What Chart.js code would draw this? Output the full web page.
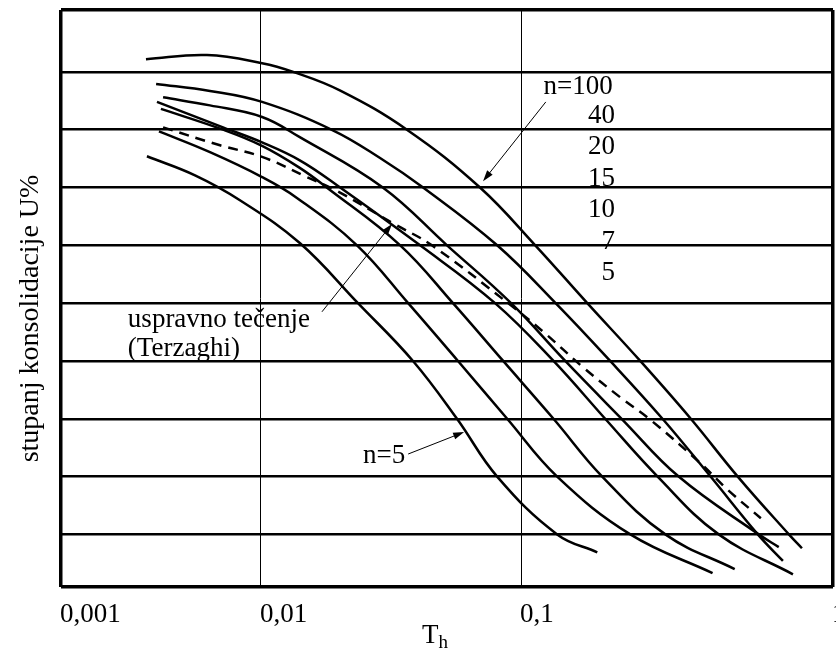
<!DOCTYPE html>
<html>
<head>
<meta charset="utf-8">
<script src="https://cdn.jsdelivr.net/npm/chart.js@4.4.1/dist/chart.umd.min.js"></script>
<style>
  html, body { margin: 0; padding: 0; background: #fff; }
</style>
</head>
<body>
<canvas id="chart" width="836" height="650"></canvas>
<script>
// x = Th, y = U% (0 at the top). one array of [Th, U] per curve
const X_TICKS = [0.001, 0.01, 0.1, 1];
const X_TICK_LABELS = ['0,001', '0,01', '0,1', '1'];
const U_LINES = [10, 20, 30, 40, 50, 60, 70, 80, 90];
const U_MIN = -0.7;
const U_MAX = 99.1;

const N100 = [[0.00266, 7.8], [0.00537, 7.1], [0.0101, 8.5], [0.0133, 10], [0.0201, 13.2], [0.0364, 20], [0.0695, 30],
  [0.111, 40], [0.163, 50], [0.241, 60], [0.35, 70], [0.495, 80], [0.722, 90], [0.795, 92.4]];
const N40 = [[0.00299, 12.1], [0.00556, 13.3], [0.0101, 15.2], [0.0189, 20.1], [0.0287, 24.9], [0.042, 30], [0.0809, 40],
  [0.129, 50], [0.193, 60], [0.284, 70], [0.405, 80], [0.574, 90], [0.691, 94.6]];
const N20 = [[0.00324, 14.4], [0.00556, 15.8], [0.0101, 17.8], [0.0141, 21.3], [0.0294, 30], [0.0519, 40], [0.0915, 50],
  [0.1385, 60], [0.21, 70], [0.32, 80], [0.578, 90], [0.67, 92.2]];
const N15 = [[0.00302, 15.2], [0.00646, 19.6], [0.0101, 22.2], [0.0141, 25.3], [0.0196, 29.6], [0.0409, 40], [0.0794, 50],
  [0.127, 60], [0.186, 70], [0.274, 80], [0.43, 90], [0.744, 96.9]];
const N10 = [[0.00316, 16.4], [0.00646, 20], [0.0101, 22.8], [0.0141, 26.6], [0.0179, 30], [0.0343, 40], [0.0547, 50],
  [0.0853, 60], [0.127, 70], [0.182, 80], [0.29, 90], [0.484, 96.0]];
const N7 = [[0.00309, 20.3], [0.00556, 23.9], [0.0101, 28.2], [0.01375, 31.8], [0.0234, 40], [0.0368, 50], [0.0572, 60],
  [0.0884, 70], [0.1305, 80], [0.224, 90], [0.411, 96.7]];
const N5 = [[0.00269, 24.6], [0.00468, 27.9], [0.00785, 32.2], [0.0141, 39.6], [0.0236, 50], [0.0384, 60],
  [0.0567, 70], [0.0809, 80], [0.1305, 90], [0.1755, 93.1]];
const TERZAGHI = [[0.00324, 19.6], [0.00624, 22.7], [0.0101, 24.7], [0.01503, 28.2], [0.0196, 30.6], [0.0322, 36.2],
  [0.0454, 40], [0.0891, 50], [0.118, 55], [0.158, 61.1], [0.208, 66.3], [0.26, 70.2], [0.376, 77.7], [0.46, 82.3], [0.587, 87.2]];

const CURVES = [N100, N40, N20, N15, N10, N7, N5];

const CURVE_LABELS = [
  { text: 'n=100', t: 0.118, u: 13.85, align: 'left' },
  { text: '40', t: 0.2, u: 18.9, align: 'right' },
  { text: '20', t: 0.2, u: 24.2, align: 'right' },
  { text: '15', t: 0.2, u: 29.8, align: 'right' },
  { text: '10', t: 0.2, u: 35.1, align: 'right' },
  { text: '7', t: 0.2, u: 40.7, align: 'right' },
  { text: '5', t: 0.2, u: 46.0, align: 'right' },
  { text: 'uspravno tečenje', t: 0.00216, u: 54.1, align: 'left' },
  { text: '(Terzaghi)', t: 0.00216, u: 59.2, align: 'left' },
  { text: 'n=5', t: 0.0247, u: 77.7, align: 'left' }
];

const ARROWS = [
  { from: [0.120, 15.2], to: [0.0714, 28.9] },
  { from: [0.01716, 51.5], to: [0.0319, 36.3] },
  { from: [0.0368, 76.1], to: [0.0604, 72.3] }
];

// the drawing gives each decade its own width, so the log axis is split per decade
const DECADE_WIDTH = [0.259, 0.337, 0.404];

class DrawnLogScale extends Chart.LogarithmicScale {
  getPixelForValue(value) {
    const d = Math.log10(value) - Math.log10(this.min);
    let dec = 0;
    for (let i = 0; i < DECADE_WIDTH.length; i++) {
      dec += Math.min(Math.max(d - i, 0), 1) * DECADE_WIDTH[i];
    }
    return this.getPixelForDecimal(dec);
  }

  getValueForPixel(pixel) {
    let dec = this.getDecimalForPixel(pixel);
    let d = 0;
    for (const w of DECADE_WIDTH) {
      d += Math.min(dec / w, 1);
      dec -= w;
      if (dec <= 0) break;
    }
    return this.min * Math.pow(10, d);
  }
}
DrawnLogScale.id = 'drawnLog';
DrawnLogScale.defaults = Chart.LogarithmicScale.defaults;
Chart.register(DrawnLogScale);

const FONT = '"Liberation Serif", "Times New Roman", serif';

function drawArrow(ctx, x1, y1, x2, y2) {
  const ang = Math.atan2(y2 - y1, x2 - x1);
  ctx.beginPath();
  ctx.moveTo(x1, y1);
  ctx.lineTo(x2 - 8 * Math.cos(ang), y2 - 8 * Math.sin(ang));
  ctx.lineWidth = 1;
  ctx.stroke();
  ctx.beginPath();
  ctx.moveTo(x2, y2);
  ctx.lineTo(x2 - 11 * Math.cos(ang) + 3.5 * Math.sin(ang), y2 - 11 * Math.sin(ang) - 3.5 * Math.cos(ang));
  ctx.lineTo(x2 - 11 * Math.cos(ang) - 3.5 * Math.sin(ang), y2 - 11 * Math.sin(ang) + 3.5 * Math.cos(ang));
  ctx.closePath();
  ctx.fill();
}

const textPlugin = {
  id: 'drawingText',
  afterDraw(chart) {
    const { ctx, chartArea: a, scales: { x, y } } = chart;
    ctx.save();
    ctx.fillStyle = '#000';
    ctx.strokeStyle = '#000';
    ctx.textBaseline = 'alphabetic';
    ctx.font = '27px ' + FONT;

    // x tick labels start at their tick
    ctx.textAlign = 'left';
    X_TICKS.forEach((v, i) => {
      ctx.fillText(X_TICK_LABELS[i], x.getPixelForValue(v) - 1, a.bottom + 35);
    });

    // axis title T with subscript h
    const tx = (a.left + a.right) / 2 - 25;
    ctx.fillText('T', tx, a.bottom + 56);
    const tw = ctx.measureText('T').width;
    ctx.font = '19px ' + FONT;
    ctx.fillText('h', tx + tw, a.bottom + 61);

    // y title
    ctx.font = '28px ' + FONT;
    ctx.save();
    ctx.translate(a.left - 23, (a.top + a.bottom) / 2 + 20);
    ctx.rotate(-Math.PI / 2);
    ctx.textAlign = 'center';
    ctx.fillText('stupanj konsolidacije U%', 0, 0);
    ctx.restore();

    // curve labels and arrows
    ctx.font = '27px ' + FONT;
    CURVE_LABELS.forEach(l => {
      ctx.textAlign = l.align;
      ctx.fillText(l.text, x.getPixelForValue(l.t), y.getPixelForValue(l.u));
    });
    ARROWS.forEach(ar => {
      drawArrow(ctx,
        x.getPixelForValue(ar.from[0]), y.getPixelForValue(ar.from[1]),
        x.getPixelForValue(ar.to[0]), y.getPixelForValue(ar.to[1]));
    });
    ctx.restore();
  }
};

const toPoints = arr => arr.map(([t, u]) => ({ x: t, y: u }));

const datasets = CURVES.map(c => ({
  data: toPoints(c),
  borderColor: '#000',
  borderWidth: 2.5,
  pointRadius: 0,
  fill: false,
  tension: 0.4
}));
datasets.push({
  data: toPoints(TERZAGHI),
  borderColor: '#000',
  borderWidth: 2.5,
  borderDash: [10, 7],
  pointRadius: 0,
  fill: false,
  tension: 0.4
});

const yTicks = [U_MIN, ...U_LINES, U_MAX];

new Chart(document.getElementById('chart'), {
  type: 'line',
  data: { datasets },
  options: {
    responsive: false,
    animation: false,
    events: [],
    layout: { padding: { left: 61, top: 10, right: 3, bottom: 63 } },
    plugins: { legend: { display: false }, tooltip: { enabled: false } },
    scales: {
      x: {
        type: 'drawnLog',
        min: 0.001,
        max: 1,
        afterBuildTicks: s => { s.ticks = X_TICKS.map(v => ({ value: v })); },
        ticks: { display: false },
        border: { display: false },
        grid: {
          color: '#000',
          drawTicks: false,
          lineWidth: c => (c.index === 0 || c.index === X_TICKS.length - 1) ? 3.5 : 1
        }
      },
      y: {
        type: 'linear',
        reverse: true,
        min: U_MIN,
        max: U_MAX,
        afterBuildTicks: s => { s.ticks = yTicks.map(v => ({ value: v })); },
        ticks: { display: false },
        border: { display: false },
        grid: {
          color: '#000',
          drawTicks: false,
          lineWidth: c => (c.index === 0 || c.index === yTicks.length - 1) ? 3.5 : 2.5
        }
      }
    }
  },
  plugins: [textPlugin]
});
</script>
</body>
</html>
